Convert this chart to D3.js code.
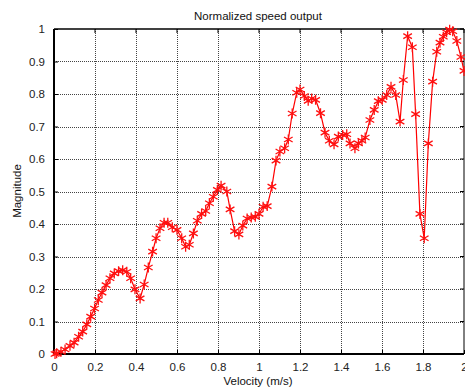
<!DOCTYPE html>
<html>
<head>
<meta charset="utf-8">
<script src="https://cdn.jsdelivr.net/npm/d3@7"></script>
<style>
  html, body { margin: 0; padding: 0; background: #fff; }
  svg { display: block; font-family: "Liberation Sans", Arial, Helvetica, sans-serif; }
</style>
</head>
<body>
<svg id="chart" width="465" height="391"></svg>
<script>
// Measured velocity samples (m/s)
const velocity = [
  0.005, 0.013, 0.034, 0.054, 0.078, 0.098, 0.12, 0.14, 0.16, 0.179,
  0.198, 0.216, 0.234, 0.254, 0.273, 0.294, 0.315, 0.335, 0.355, 0.374,
  0.395, 0.42, 0.44, 0.46, 0.481, 0.498, 0.517, 0.537, 0.555, 0.577,
  0.6, 0.623, 0.642, 0.66, 0.68, 0.699, 0.72, 0.74, 0.758, 0.777,
  0.797, 0.815, 0.843, 0.859, 0.881, 0.902, 0.921, 0.942, 0.962, 0.982,
  1.0, 1.02, 1.04, 1.063, 1.083, 1.102, 1.125, 1.143, 1.162, 1.184,
  1.2, 1.221, 1.24, 1.257, 1.276, 1.3, 1.322, 1.343, 1.366, 1.387,
  1.408, 1.428, 1.444, 1.468, 1.485, 1.502, 1.518, 1.541, 1.562, 1.582,
  1.601, 1.623, 1.644, 1.667, 1.688, 1.704, 1.725, 1.748, 1.764, 1.785,
  1.806, 1.826, 1.847, 1.867, 1.883, 1.899, 1.915, 1.93, 1.945, 1.965,
  1.985, 2.0
];
// Normalized speed magnitude at each sample
const magnitude = [
  0.0, 0.002, 0.007, 0.014, 0.025, 0.035, 0.053, 0.069, 0.091, 0.115,
  0.14, 0.166, 0.189, 0.212, 0.233, 0.248, 0.255, 0.258, 0.253, 0.233,
  0.199, 0.171, 0.214, 0.266, 0.315, 0.356, 0.387, 0.404, 0.404, 0.39,
  0.382, 0.356, 0.33, 0.336, 0.371, 0.41, 0.431, 0.44, 0.464, 0.484,
  0.505, 0.518, 0.5, 0.445, 0.378, 0.368, 0.395, 0.417, 0.42, 0.422,
  0.431, 0.453, 0.455, 0.515, 0.595, 0.623, 0.633, 0.66, 0.74, 0.804,
  0.814, 0.794, 0.779, 0.786, 0.782, 0.741, 0.681, 0.656, 0.645, 0.669,
  0.674, 0.676, 0.648, 0.633, 0.648, 0.656, 0.666, 0.72, 0.751, 0.778,
  0.782, 0.797, 0.822, 0.797, 0.715, 0.843, 0.978, 0.944, 0.738, 0.431,
  0.356, 0.648, 0.838, 0.93, 0.958, 0.976, 0.99, 0.998, 0.993, 0.963,
  0.914, 0.871
];
const xTicks = [0, 0.2, 0.4, 0.6, 0.8, 1, 1.2, 1.4, 1.6, 1.8, 2];
const yTicks = [0, 0.1, 0.2, 0.3, 0.4, 0.5, 0.6, 0.7, 0.8, 0.9, 1];

const svg = d3.select("#chart");
const plotLeft = 54, plotRight = 464, plotTop = 29, plotBottom = 354;

const x = d3.scaleLinear().domain([0, 2]).range([plotLeft, plotRight]);
const y = d3.scaleLinear().domain([0, 1]).range([plotBottom, plotTop]);

// Grid
const grid = svg.append("g").attr("stroke", "#444").attr("stroke-width", 1)
  .attr("stroke-dasharray", "1,1");
grid.selectAll("line.gx").data(xTicks.slice(1, -1)).join("line")
  .attr("x1", d => Math.round(x(d)) + 0.5).attr("x2", d => Math.round(x(d)) + 0.5)
  .attr("y1", plotTop).attr("y2", plotBottom);
grid.selectAll("line.gy").data(yTicks.slice(1, -1)).join("line")
  .attr("y1", d => Math.round(y(d)) + 0.5).attr("y2", d => Math.round(y(d)) + 0.5)
  .attr("x1", plotLeft).attr("x2", plotRight);

// Axes with inward ticks
const xAxis = d3.axisBottom(x).tickValues(xTicks).tickFormat(d3.format("")).tickSizeInner(-4).tickSizeOuter(0).tickPadding(9);
const yAxis = d3.axisLeft(y).tickValues(yTicks).tickFormat(d3.format("")).tickSizeInner(-4).tickSizeOuter(0).tickPadding(9);

const gx = svg.append("g").attr("transform", `translate(0,${plotBottom})`).call(xAxis);
const gy = svg.append("g").attr("transform", `translate(${plotLeft},0)`).call(yAxis);
[gx, gy].forEach(g => {
  g.select(".domain").remove();
  g.selectAll("text").attr("fill", "#222").attr("font-size", 11.5)
    .attr("font-family", "'Liberation Sans', Arial, sans-serif");
  g.selectAll(".tick line").attr("stroke", "#000");
});

// Mirrored ticks on the top and right edges
svg.append("g").selectAll("line").data(xTicks).join("line")
  .attr("x1", d => x(d)).attr("x2", d => x(d)).attr("y1", plotTop).attr("y2", plotTop + 4)
  .attr("stroke", "#000");
svg.append("g").selectAll("line").data(yTicks).join("line")
  .attr("y1", d => y(d)).attr("y2", d => y(d)).attr("x1", plotRight - 4).attr("x2", plotRight)
  .attr("stroke", "#000");

// Box
svg.append("line").attr("x1", plotLeft).attr("x2", plotRight).attr("y1", plotTop).attr("y2", plotTop)
  .attr("stroke", "#000").attr("stroke-width", 1.5);
svg.append("line").attr("x1", plotLeft).attr("x2", plotRight).attr("y1", plotBottom).attr("y2", plotBottom)
  .attr("stroke", "#000").attr("stroke-width", 2);
svg.append("line").attr("x1", plotLeft).attr("x2", plotLeft).attr("y1", plotTop).attr("y2", plotBottom)
  .attr("stroke", "#000").attr("stroke-width", 2);
svg.append("line").attr("x1", plotRight).attr("x2", plotRight).attr("y1", plotTop).attr("y2", plotBottom)
  .attr("stroke", "#000").attr("stroke-width", 1);

// Series
const pts = velocity.map((v, i) => [v, magnitude[i]]);
const line = d3.line().x(d => x(d[0])).y(d => y(d[1]));
svg.append("path").datum(pts).attr("d", line)
  .attr("fill", "none").attr("stroke", "#ff0000").attr("stroke-width", 1.2);

const star = d3.symbol().type(d3.symbolAsterisk).size(70);
svg.append("g").selectAll("path").data(pts).join("path")
  .attr("transform", d => `translate(${x(d[0])},${y(d[1])})`)
  .attr("d", star)
  .attr("fill", "none").attr("stroke", "#ff1010").attr("stroke-width", 1.3);

// Labels
svg.append("text").attr("x", 258).attr("y", 20).attr("text-anchor", "middle")
  .attr("font-size", 11.5).attr("fill", "#111").text("Normalized speed output");
svg.append("text").attr("x", 258).attr("y", 385).attr("text-anchor", "middle")
  .attr("font-size", 11.5).attr("fill", "#111").text("Velocity (m/s)");
svg.append("text").attr("transform", "translate(21,191) rotate(-90)").attr("text-anchor", "middle")
  .attr("font-size", 11.5).attr("fill", "#111").text("Magnitude");
</script>
</body>
</html>
